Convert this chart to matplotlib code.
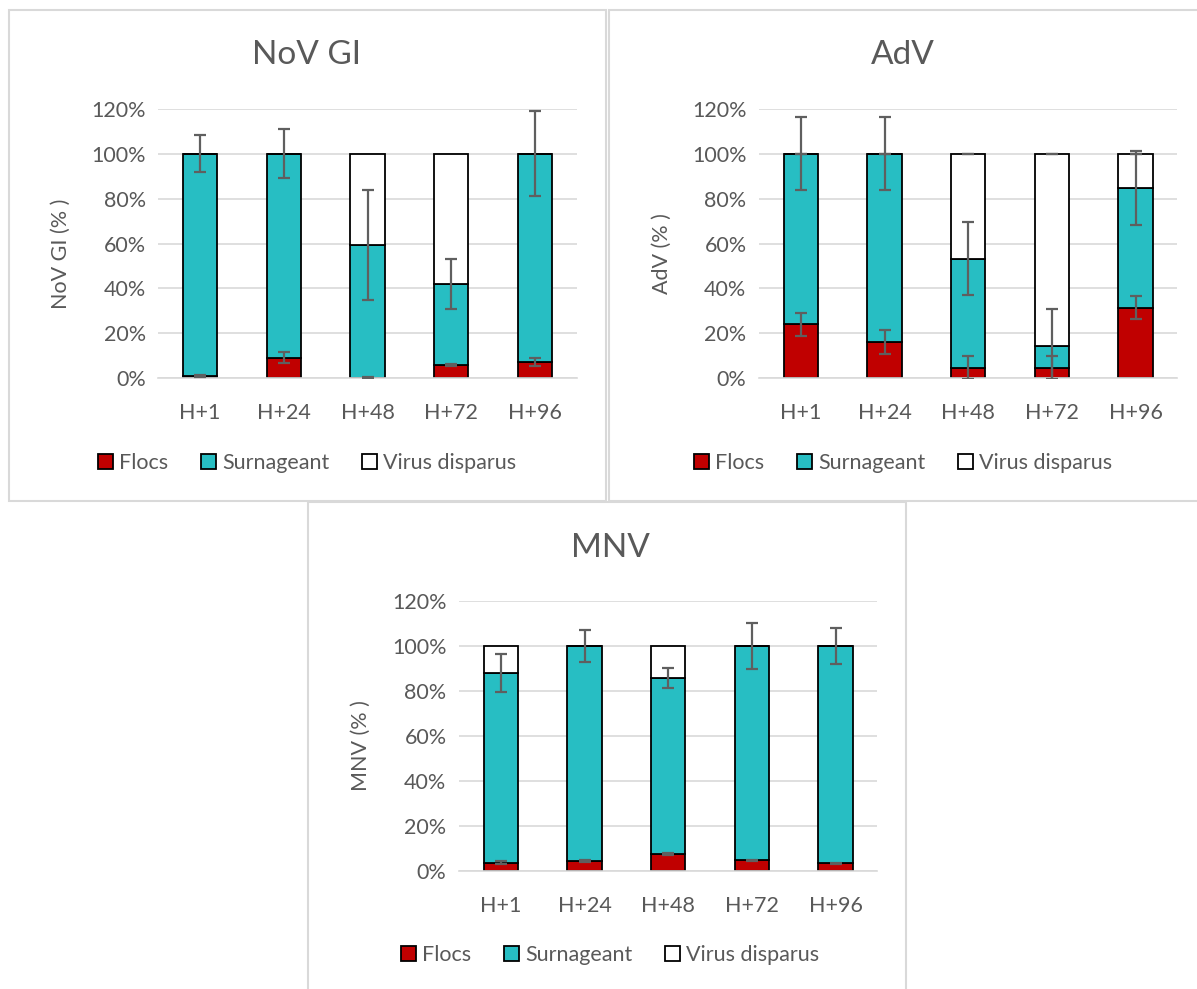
import matplotlib.pyplot as plt
from matplotlib.patches import Rectangle, Patch
from matplotlib.ticker import FuncFormatter

plt.rcParams['font.family'] = ['Lato', 'DejaVu Sans']

times = ["H+1", "H+24", "H+48", "H+72", "H+96"]

# NoV GI
nov_flocs = [1.0, 9.2, 0.3, 5.9, 7.4]
nov_surn = [99.0, 90.8, 59.2, 36.1, 92.6]
nov_virus = [0.0, 0.0, 40.5, 58.0, 0.0]
nov_flocs_err = [0.5, 2.5, 0.2, 0.6, 1.8]
nov_surn_err = [8.3, 11.0, 24.5, 11.0, 19.0]

# AdV
adv_flocs = [24.0, 16.1, 4.7, 4.7, 31.4]
adv_surn = [76.0, 83.9, 48.5, 9.8, 53.3]
adv_virus = [0.0, 0.0, 46.8, 85.5, 15.3]
adv_flocs_err = [5.2, 5.2, 5.2, 5.2, 5.2]
adv_surn_err = [16.3, 16.3, 16.3, 16.3, 16.3]
adv_virus_err = [0.0, 0.0, 0.0, 0.0, 0.0]

# MNV
mnv_flocs = [3.6, 4.2, 7.3, 4.6, 3.3]
mnv_surn = [84.4, 95.8, 78.5, 95.4, 96.7]
mnv_virus = [12.0, 0.0, 14.2, 0.0, 0.0]
mnv_flocs_err = [0.8, 0.5, 0.5, 0.3, 0.3]
mnv_surn_err = [8.4, 7.0, 4.6, 10.2, 8.0]

labels = ["Flocs", "Surnageant", "Virus disparus"]
colors = ["#C00000", "#27BEC3", "#FFFFFF"]
txt = "#595959"
grid = "#D9D9D9"
W, H = 1197, 989

fig = plt.figure(figsize=(W / 100, H / 100), dpi=100)


def fx(px):
    return px / W


def fy(py):
    return 1 - py / H


# panel frames
for x0, y0, x1, y1 in [(8.5, 10, 606, 501), (609, 10, 1200, 501), (308, 502, 906, 995)]:
    fig.add_artist(Rectangle((fx(x0), fy(y1)), fx(x1 - x0), (y1 - y0) / H,
                             transform=fig.transFigure, fill=False,
                             edgecolor=grid, lw=1.5))


def panel(left_px, zero_px, flocs, surn, virus, ferr, serr, verr,
          title, ylabel, cx, title_y, ylab_x, leg_y):
    top_px = zero_px - 269.5
    ax = fig.add_axes([fx(left_px), fy(zero_px), fx(418.4), 269.5 / H])
    x = list(range(len(times)))
    b1 = [0] * len(x)
    b2 = flocs
    b3 = [f + s for f, s in zip(flocs, surn)]
    for vals, bot, c, lab in zip([flocs, surn, virus], [b1, b2, b3], colors, labels):
        ax.bar(x, vals, 0.41, bottom=bot, color=c, edgecolor="black",
               linewidth=1.3, label=lab, zorder=2)
    eb = dict(fmt="none", ecolor="#5f5f5f", elinewidth=1.6, capsize=4.5,
              capthick=1.6, zorder=4)
    ax.errorbar(x, flocs, yerr=ferr, **eb)
    ax.errorbar(x, b3, yerr=serr, **eb)
    if verr is not None:
        tot = [a + v for a, v in zip(b3, virus)]
        ax.errorbar(x, tot, yerr=verr, **eb)
    ax.set_xlim(-0.5, 4.5)
    ax.set_ylim(0, 120)
    ax.set_yticks(range(0, 121, 20))
    ax.yaxis.set_major_formatter(FuncFormatter(lambda v, p: f"{v:.0f}%"))
    ax.set_xticks(x)
    ax.set_xticklabels(times)
    ax.grid(axis="y", color=grid, lw=1.2, zorder=0)
    ax.set_axisbelow(True)
    for s in ["top", "right", "left"]:
        ax.spines[s].set_visible(False)
    ax.spines["bottom"].set_color(grid)
    ax.spines["bottom"].set_linewidth(1.2)
    ax.tick_params(axis="both", length=0, labelsize=15.5, colors=txt)
    ax.tick_params(axis="y", pad=9)
    ax.tick_params(axis="x", pad=18)
    fig.text(fx(cx), fy(title_y), title, ha="center", va="center",
             fontsize=24, color=txt)
    fig.text(fx(ylab_x), fy((zero_px + top_px) / 2 + 10), ylabel, ha="center",
             va="center", rotation=90, fontsize=15.5, color=txt)
    handles = [Patch(facecolor=c, edgecolor="black", linewidth=1.3) for c in colors]
    fig.legend(handles, labels, loc="center", bbox_to_anchor=(fx(cx), fy(leg_y)),
               ncol=3, frameon=False, fontsize=15.5, labelcolor=txt,
               handlelength=0.7, handleheight=0.7, handletextpad=0.3,
               columnspacing=1.5)
    return ax


panel(158.3, 378.3, nov_flocs, nov_surn, nov_virus, nov_flocs_err, nov_surn_err,
      None, "NoV GI", "NoV GI (% )", 307, 55, 61, 463)
panel(759, 378.3, adv_flocs, adv_surn, adv_virus, adv_flocs_err, adv_surn_err,
      adv_virus_err, "AdV", "AdV (% )", 903, 55, 662, 463)
panel(459, 870.7, mnv_flocs, mnv_surn, mnv_virus, mnv_flocs_err, mnv_surn_err,
      None, "MNV", "MNV (% )", 610, 548, 361, 955)

fig.savefig("out.png", dpi=100, facecolor="white")
